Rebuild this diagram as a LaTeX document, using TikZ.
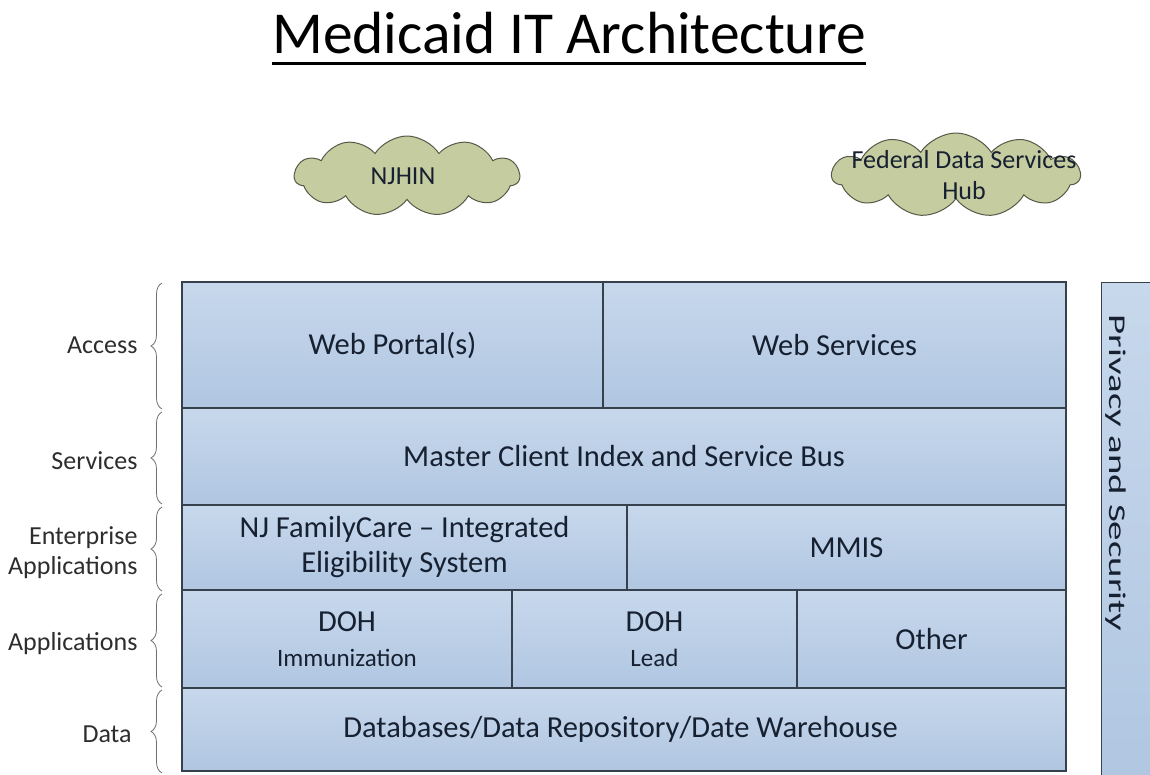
\documentclass[tikz,border=0pt]{standalone}
\usepackage{fontspec}
\setmainfont{Carlito}
\usetikzlibrary{shapes.symbols,decorations.pathreplacing}

\definecolor{celltop}{RGB}{199, 216, 236}
\definecolor{cellbottom}{RGB}{176, 198, 225}
\definecolor{cellborder}{RGB}{55, 65, 78}
\definecolor{celltext}{RGB}{22, 32, 48}
\definecolor{cloudfill}{RGB}{197, 204, 160}
\definecolor{cloudborder}{RGB}{85, 90, 72}
\definecolor{labeltext}{RGB}{45, 45, 45}
\definecolor{bracecolor}{RGB}{110, 110, 110}

\newcommand{\boxsize}{\fontsize{30.5}{35}\selectfont}
\newcommand{\subsize}{\fontsize{25}{30}\selectfont}

\begin{document}
\begin{tikzpicture}[x=1pt, y=-1pt,
    cell/.style={draw=cellborder, line width=1.3pt, top color=celltop, bottom color=cellbottom,
        text=celltext, font=\boxsize, align=center, inner sep=0pt},
    cloudshape/.style={cloud, cloud puffs=11, cloud puff arc=115, aspect=2.7, draw=cloudborder,
        line width=1pt, fill=cloudfill, inner sep=0pt},
    cloudtext/.style={text=celltext, font=\fontsize{26}{31}\selectfont, align=center},
    layer/.style={text=labeltext, font=\fontsize{26}{30}\selectfont, align=right, anchor=east},
    brace/.style={draw=bracecolor, line width=0.8pt, decorate, decoration={brace, amplitude=11pt}}
    ]

    \useasboundingbox (0,0) rectangle (1150,774);

    % Title
    \node[font=\fontsize{59.5}{64}\selectfont, anchor=base, inner sep=0pt] (title) at (569,53) {Medicaid IT Architecture};
    \draw[line width=3pt] ([yshift=-10pt]title.base west) -- ([yshift=-10pt]title.base east);

    % Clouds
    \node[cloudshape, minimum width=225pt, minimum height=80pt] (njhin) at (407,176) {};
    \node[cloudtext] (njhintext) at ([xshift=-4pt]njhin.center) {NJHIN};
    \node[cloudshape, minimum width=248pt, minimum height=84pt] (hub) at (956,175) {};
    \node[cloudtext] (hubtext) at ([xshift=8pt]hub.center) {Federal Data Services\\Hub};

    % Layers
    \foreach \name/\xa/\ya/\xb/\yb/\txt in {
        portal/182/282/603/408/{Web Portal(s)},
        webservices/603/282/1066/408/{Web Services},
        bus/182/408/1066/505/{Master Client Index and Service Bus},
        eligibility/182/505/627/590/{NJ FamilyCare -- Integrated\\Eligibility System},
        mmis/627/505/1066/590/{MMIS},
        immunization/182/590/512/688/{DOH\\{\subsize Immunization}},
        lead/512/590/797/688/{DOH\\{\subsize Lead}},
        other/797/590/1066/688/{Other},
        data/182/688/1066/771/{Databases/Data Repository/Date Warehouse}
    }{
        \pgfmathsetmacro{\w}{\xb-\xa}
        \pgfmathsetmacro{\h}{\yb-\ya}
        \node[cell, minimum width=\w pt, minimum height=\h pt] (\name) at ({(\xa+\xb)/2},{(\ya+\yb)/2}) {\txt};
    }

    % Privacy bar
    \node[cell, anchor=north west, minimum width=70pt, minimum height=510pt, line width=1pt] (privacy) at (1101,282) {};
    \node[text=celltext, rotate=-90, font=\fontsize{24}{28}\selectfont] (privacytext) at (1116,473)
        {\scalebox{1.62}[1]{Privacy and Security}};

    % Braces and labels
    \foreach \name/\ya/\yb/\ymid/\txt in {
        access/283/409/345/{Access},
        services/412/504/461/{Services},
        enterprise/507/591/553/{Enterprise\\Applications},
        applications/594/687/644/{Applications},
        datalayer/690/773/734/{Data}
    }{
        \coordinate (\name top) at (162,\ya);
        \coordinate (\name bottom) at (162,\yb);
        \draw[brace] (\name bottom) -- (\name top);
        \node[layer] (\name) at (141,\ymid) {\txt};
    }
\end{tikzpicture}
\end{document}
